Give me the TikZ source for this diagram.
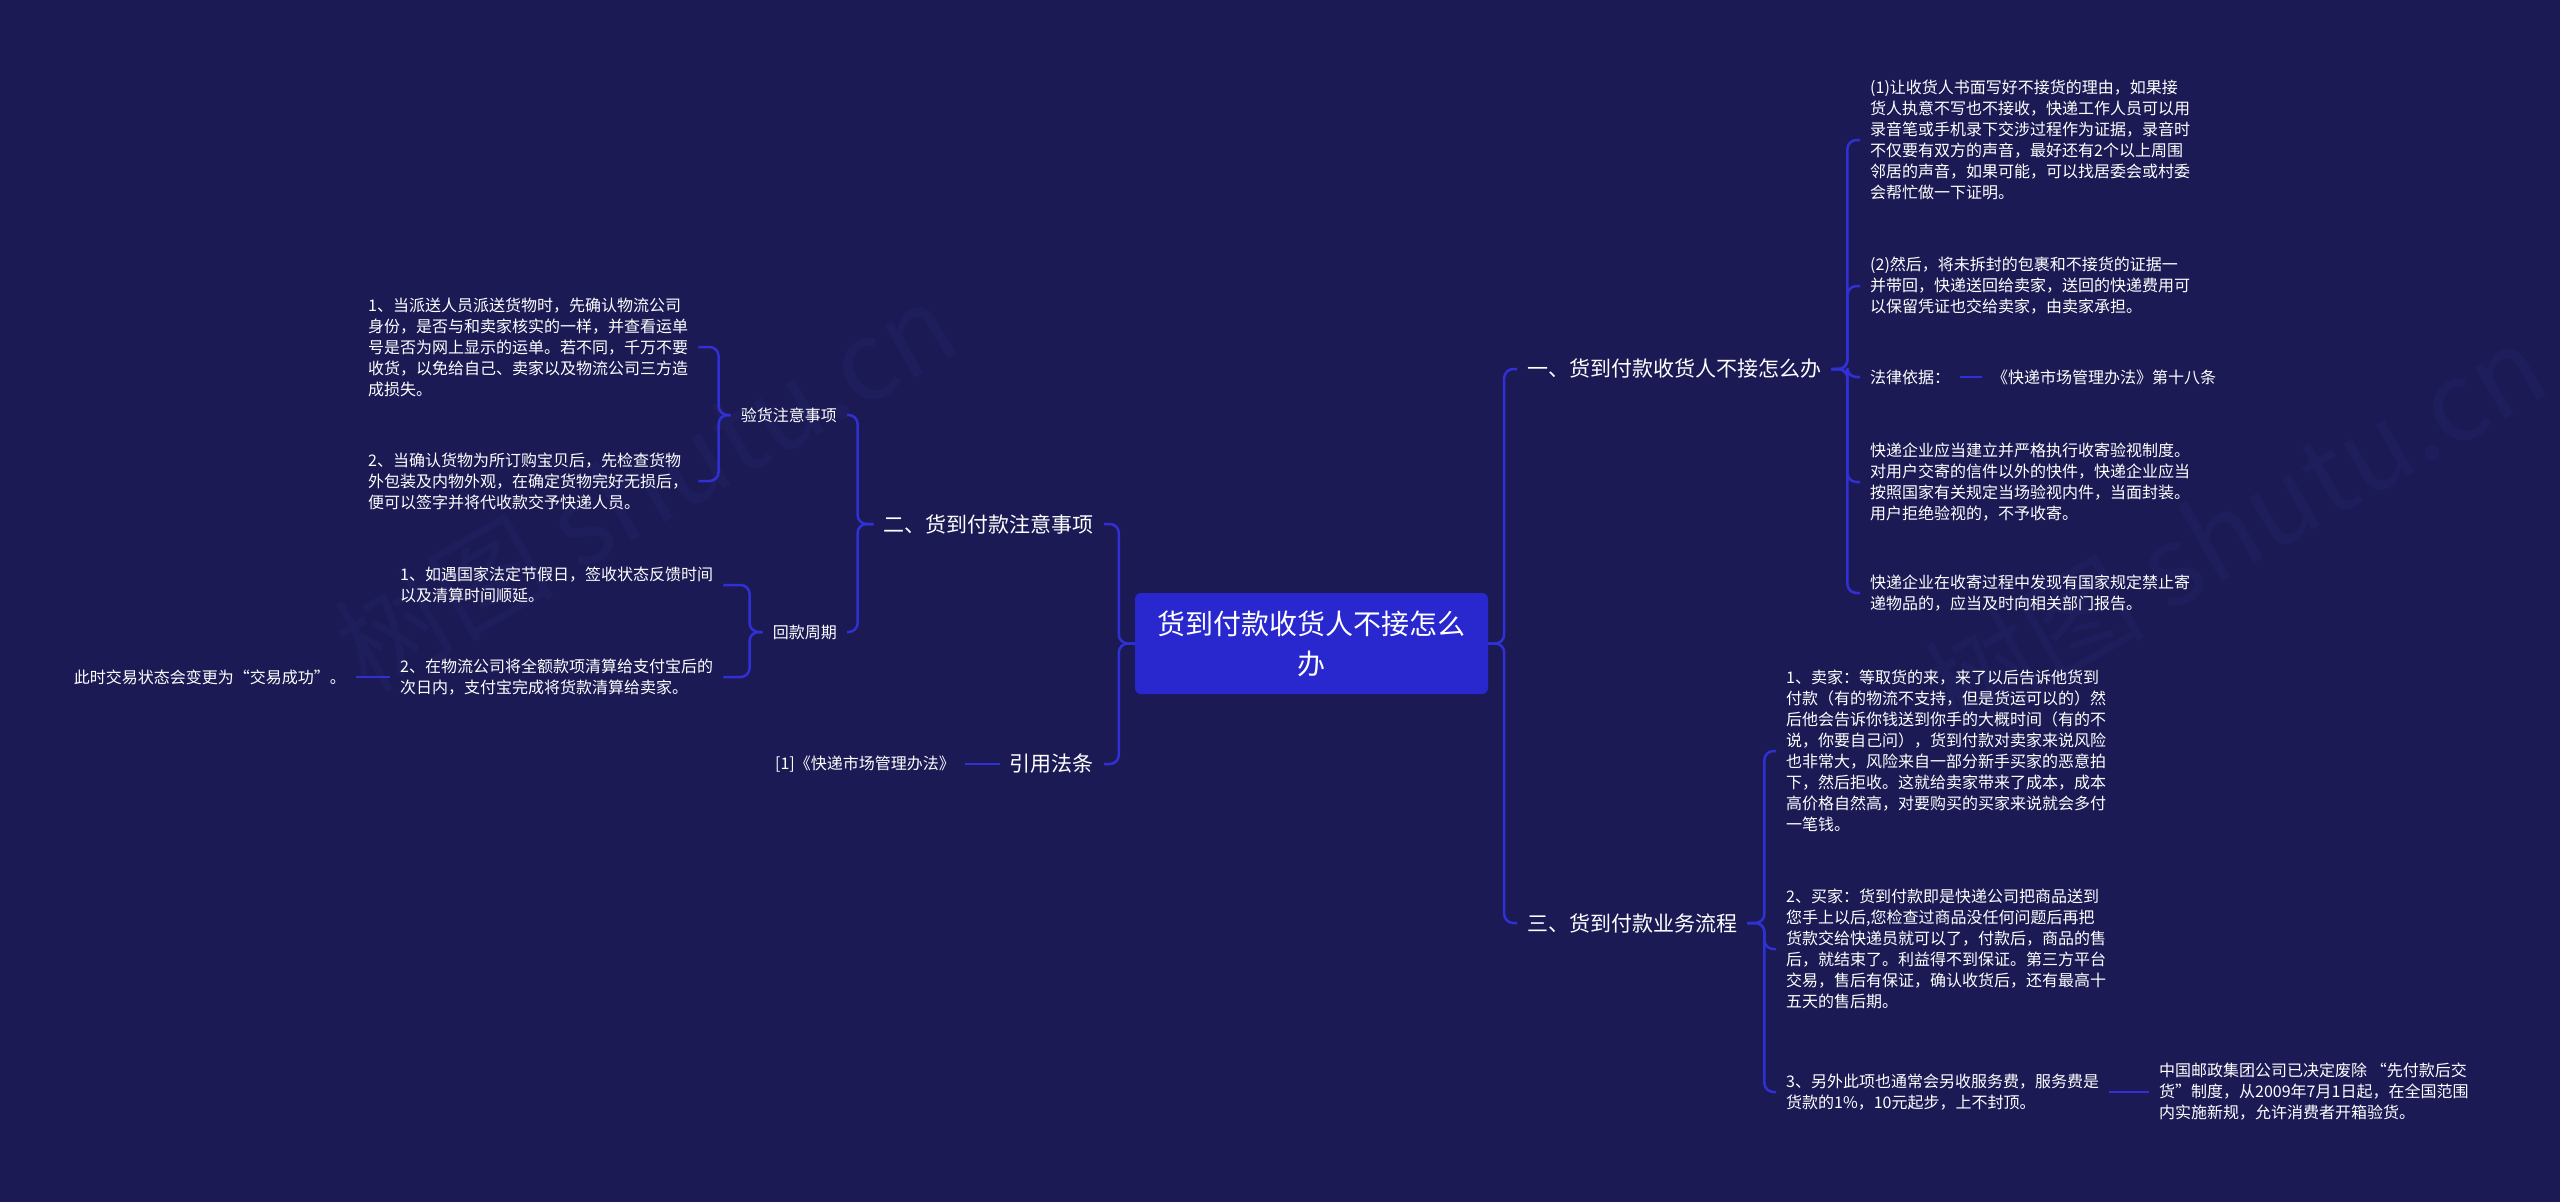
\documentclass[tikz,border=0pt]{standalone}
\usepackage{fontspec}
\setmainfont{Noto Sans CJK SC}
\definecolor{bg}{RGB}{27,26,84}
\definecolor{linec}{RGB}{48,48,212}
\definecolor{rootc}{RGB}{40,40,206}
\definecolor{wm}{RGB}{31,30,92}
\begin{document}
\begin{tikzpicture}[x=1pt,y=-1pt,
  leaf/.style={text=white,font=\fontsize{16}{21}\selectfont,align=left,inner xsep=10pt,inner ysep=3pt},
  mainb/.style={text=white,font=\fontsize{21}{26}\selectfont,inner xsep=10pt,inner ysep=4pt},
  rootbox/.style={fill=rootc,rounded corners=6pt,minimum width=353pt,minimum height=101pt,text=white,font=\fontsize{28}{40}\selectfont,align=center},
  conn/.style={draw=linec,line width=2.5pt,rounded corners=9pt},
  wmark/.style={text=wm,font=\fontsize{110}{110}\selectfont,rotate=30}
]
\fill[bg] (0,0) rectangle (2560,1202);
\useasboundingbox (0,0) rectangle (2560,1202);

% watermarks
\node[wmark] (wm1) at (645,486) {树图 shutu.cn};
\node[wmark] (wm2) at (2235,527) {树图 shutu.cn};

% root
\node[rootbox] (root) at (1311.5,643.5) {货到付款收货人不接怎么\\办};

% right main branches
\node[mainb,anchor=west] (b1) at (1517,369) {一、货到付款收货人不接怎么办};
\node[mainb,anchor=west] (b3) at (1517,923) {三、货到付款业务流程};

% left main branches
\node[mainb,anchor=east] (b2) at (1104,524) {二、货到付款注意事项};
\node[mainb,anchor=east] (bref) at (1104,764) {引用法条};

% branch 1 leaves
\node[leaf,anchor=west] (l11) at (1860,140) {(1)让收货人书面写好不接货的理由，如果接\\货人执意不写也不接收，快递工作人员可以用\\录音笔或手机录下交涉过程作为证据，录音时\\不仅要有双方的声音，最好还有2个以上周围\\邻居的声音，如果可能，可以找居委会或村委\\会帮忙做一下证明。};
\node[leaf,anchor=west] (l12) at (1860,286) {(2)然后，将未拆封的包裹和不接货的证据一\\并带回，快递送回给卖家，送回的快递费用可\\以保留凭证也交给卖家，由卖家承担。};
\node[leaf,anchor=west] (l13) at (1860,377) {法律依据：};
\node[leaf,anchor=west] (l13a) at (1982,377) {《快递市场管理办法》第十八条};
\node[leaf,anchor=west] (l14) at (1860,482) {快递企业应当建立并严格执行收寄验视制度。\\对用户交寄的信件以外的快件，快递企业应当\\按照国家有关规定当场验视内件，当面封装。\\用户拒绝验视的，不予收寄。};
\node[leaf,anchor=west] (l15) at (1860,593) {快递企业在收寄过程中发现有国家规定禁止寄\\递物品的，应当及时向相关部门报告。};

% branch 3 leaves
\node[leaf,anchor=west] (l31) at (1776,751) {1、卖家：等取货的来，来了以后告诉他货到\\付款（有的物流不支持，但是货运可以的）然\\后他会告诉你钱送到你手的大概时间（有的不\\说，你要自己问），货到付款对卖家来说风险\\也非常大，风险来自一部分新手买家的恶意拍\\下，然后拒收。这就给卖家带来了成本，成本\\高价格自然高，对要购买的买家来说就会多付\\一笔钱。};
\node[leaf,anchor=west] (l32) at (1776,949) {2、买家：货到付款即是快递公司把商品送到\\您手上以后,您检查过商品没任何问题后再把\\货款交给快递员就可以了，付款后，商品的售\\后，就结束了。利益得不到保证。第三方平台\\交易，售后有保证，确认收货后，还有最高十\\五天的售后期。};
\node[leaf,anchor=west] (l33) at (1776,1092) {3、另外此项也通常会另收服务费，服务费是\\货款的1\%，10元起步，上不封顶。};
\node[leaf,anchor=west] (l34) at (2149,1092) {中国邮政集团公司已决定废除 “先付款后交\\货”制度，从2009年7月1日起，在全国范围\\内实施新规，允许消费者开箱验货。};

% branch 2 sub nodes
\node[leaf,anchor=east] (v1) at (847,415) {验货注意事项};
\node[leaf,anchor=east] (v2) at (847,632) {回款周期};
\node[leaf,anchor=west] (v11) at (358,347) {1、当派送人员派送货物时，先确认物流公司\\身份，是否与和卖家核实的一样，并查看运单\\号是否为网上显示的运单。若不同，千万不要\\收货，以免给自己、卖家以及物流公司三方造\\成损失。};
\node[leaf,anchor=west] (v12) at (358,481) {2、当确认货物为所订购宝贝后，先检查货物\\外包装及内物外观，在确定货物完好无损后，\\便可以签字并将代收款交予快递人员。};
\node[leaf,anchor=west] (v21) at (390,585) {1、如遇国家法定节假日，签收状态反馈时间\\以及清算时间顺延。};
\node[leaf,anchor=west] (v22) at (390,677) {2、在物流公司将全额款项清算给支付宝后的\\次日内，支付宝完成将货款清算给卖家。};
\node[leaf,anchor=east] (v23) at (356,677) {此时交易状态会变更为“交易成功”。};
\node[leaf,anchor=east] (ref1) at (965,764) {[1]《快递市场管理办法》};

% connectors: root
\draw[conn] (root.east) -- ++(16,0) |- (b1.west);
\draw[conn] (root.east) -- ++(16,0) |- (b3.west);
\draw[conn] (root.west) -- ++(-16,0) |- (b2.east);
\draw[conn] (root.west) -- ++(-16,0) |- (bref.east);

% branch 1
\foreach \c in {l11,l12,l13,l14,l15}
  \draw[conn] (b1.east) -- ++(16,0) |- (\c.west);
\draw[conn] (l13.east) -- (l13a.west);

% branch 3
\foreach \c in {l31,l32,l33}
  \draw[conn] (b3.east) -- ++(17,0) |- (\c.west);
\draw[conn] (l33.east) -- (l34.west);

% branch 2
\foreach \c in {v1,v2}
  \draw[conn] (b2.west) -- ++(-16,0) |- (\c.east);
\foreach \c in {v11,v12}
  \draw[conn] (v1.west) -- ++(-12,0) |- (\c.east);
\foreach \c in {v21,v22}
  \draw[conn] (v2.west) -- ++(-13,0) |- (\c.east);
\draw[conn] (v22.west) -- (v23.east);
\draw[conn] (bref.west) -- (ref1.east);
\end{tikzpicture}
\end{document}
